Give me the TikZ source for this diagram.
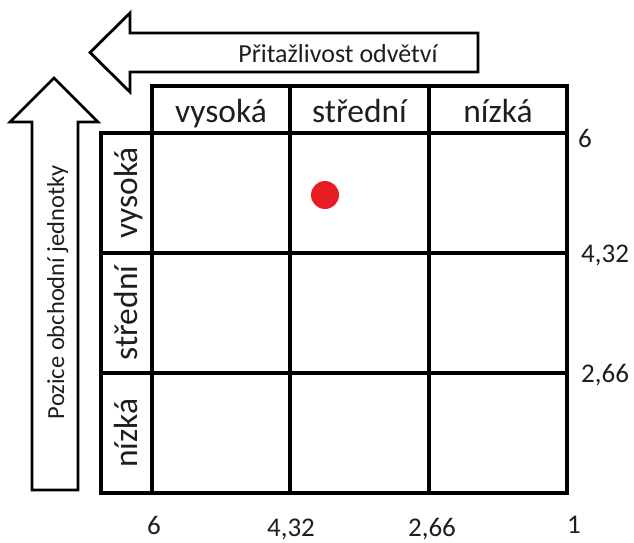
\documentclass[tikz,border=0pt]{standalone}
\usepackage{fontspec}
\setmainfont{Carlito}
\definecolor{dotred}{RGB}{232,28,36}
\definecolor{ink}{RGB}{30,30,30}
\tikzset{
  gridline/.style={line width=4.2pt, line cap=rect, draw=black},
  bigarrow/.style={line width=2.8pt, draw=black, fill=white, line join=miter},
  headtxt/.style={font=\fontsize{33.5}{36}\selectfont, text=ink, inner sep=0pt, anchor=base},
  rowtxt/.style={font=\fontsize{33.5}{36}\selectfont, text=ink, inner sep=0pt, anchor=base, rotate=90},
  axistxt/.style={font=\fontsize{26}{30}\selectfont, text=ink, inner sep=0pt, anchor=base},
  numtxt/.style={font=\fontsize{27}{30}\selectfont, text=ink, inner sep=0pt},
}
\begin{document}
\begin{tikzpicture}[x=1pt, y=-1pt]
\useasboundingbox (0,0) rectangle (634,543);

% horizontal arrow: Přitažlivost odvětví
\draw[bigarrow] (478,33) -- (130,33) -- (130,13) -- (90,52.5) -- (130,92)
  -- (130,72) -- (478,72) -- cycle;
\node[axistxt] (attr) at (338,63) {Přitažlivost odvětví};

% vertical arrow: Pozice obchodní jednotky
\draw[bigarrow] (32,490) -- (32,122) -- (10,122) -- (54,78) -- (98,122)
  -- (78,122) -- (78,490) -- cycle;
\node[axistxt, font=\fontsize{24.5}{28}\selectfont, rotate=90] (pos) at (64,292) {Pozice obchodní jednotky};

% header row and label column
\draw[gridline] (152,86) rectangle (567,133);
\draw[gridline] (101,133) rectangle (152,493);
% main 3x3 grid
\draw[gridline] (152,133) rectangle (567,493);
\foreach \x in {290,429} \draw[gridline] (\x,86) -- (\x,493);
\foreach \y in {253,373} \draw[gridline] (101,\y) -- (567,\y);

% column headings
\node[headtxt] (c1) at (221,122) {vysoká};
\node[headtxt] (c2) at (359.5,122) {střední};
\node[headtxt] (c3) at (498,122) {nízká};

% row headings
\node[rowtxt] (r1) at (137,193) {vysoká};
\node[rowtxt] (r2) at (137,313) {střední};
\node[rowtxt] (r3) at (137,433) {nízká};

% marker
\fill[dotred] (325,195) circle (14);
\node[inner sep=0pt, minimum size=28pt] (dot) at (325,195) {};

% scale values on the right
\node[numtxt, anchor=base west] (v1) at (578,147) {6};
\node[numtxt, anchor=base west] (v2) at (581,262) {4,32};
\node[numtxt, anchor=base west] (v3) at (581,382) {2,66};

% scale values at the bottom
\node[numtxt, anchor=base] (h1) at (154,534) {6};
\node[numtxt, anchor=base] (h2) at (291,536) {4,32};
\node[numtxt, anchor=base] (h3) at (432,536) {2,66};
\node[numtxt, anchor=base] (h4) at (574,533) {1};
\end{tikzpicture}
\end{document}
